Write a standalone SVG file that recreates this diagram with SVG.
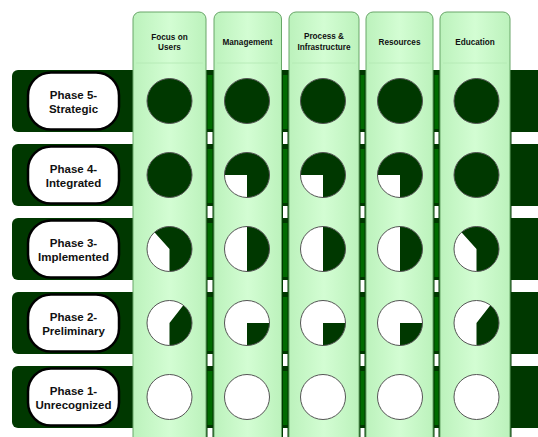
<svg xmlns="http://www.w3.org/2000/svg" xmlns:xlink="http://www.w3.org/1999/xlink" width="538" height="437" viewBox="0 0 538 437">
<style>
.bar{fill:#003800}
.pill{fill:#fff;stroke:#000;stroke-width:2.5}
.ptxt{font-family:"Liberation Sans",Arial,sans-serif;font-weight:bold;font-size:11.5px;fill:#111;text-anchor:middle}
.col{fill:url(#colg);stroke:#68a668;stroke-width:1}
.htxt{font-family:"Liberation Sans",Arial,sans-serif;font-weight:bold;font-size:8.2px;fill:#111;text-anchor:middle}
.sep{stroke:#b2e9b2;stroke-width:0.8}
.gapd{fill:#003800}
.gapw{fill:#fff}
.gapg{fill:#006b00}
.dark{fill:#003800}
.ring{fill:none;stroke:#555;stroke-width:1}
</style>
<defs>
<linearGradient id="colg" x1="0" y1="0" x2="1" y2="0">
<stop offset="0" stop-color="#bcf2bc"/>
<stop offset="0.5" stop-color="#d3fdd3"/>
<stop offset="1" stop-color="#bcf2bc"/>
</linearGradient>
<g id="full"><circle r="22.5" class="dark"/><circle r="22.5" class="ring"/></g>
<g id="empty"><circle r="22.5" fill="#fff"/><circle r="22.5" class="ring"/></g>
<g id="threeq"><circle r="22.5" fill="#fff"/><path class="dark" d="M0,0 L-22.5,0 A22.5,22.5 0 1 1 0,22.5 Z"/><circle r="22.5" class="ring"/></g>
<g id="half"><circle r="22.5" fill="#fff"/><path class="dark" d="M0,-22.5 A22.5,22.5 0 0 1 0,22.5 Z"/><circle r="22.5" class="ring"/></g>
<g id="quarter"><circle r="22.5" fill="#fff"/><path class="dark" d="M0,0 L22.5,0 A22.5,22.5 0 0 1 0,22.5 Z"/><circle r="22.5" class="ring"/></g>
<g id="p3"><circle r="22.5" fill="#fff"/><path class="dark" d="M0,0 L-15.06,-16.72 A22.5,22.5 0 1 1 0,22.5 Z"/><circle r="22.5" class="ring"/></g>
<g id="p2"><circle r="22.5" fill="#fff"/><path class="dark" d="M0,0 L13.85,-17.73 A22.5,22.5 0 0 1 0,22.5 Z"/><circle r="22.5" class="ring"/></g>
</defs>
<rect width="538" height="437" fill="#fff"/>

<g id="rows">
<g id="row-phase5"><rect class="bar" x="12" y="70" width="540" height="62" rx="6"/></g>
<g id="row-phase4"><rect class="bar" x="12" y="144" width="540" height="62" rx="6"/></g>
<g id="row-phase3"><rect class="bar" x="12" y="218" width="540" height="62" rx="6"/></g>
<g id="row-phase2"><rect class="bar" x="12" y="292" width="540" height="62" rx="6"/></g>
<g id="row-phase1"><rect class="bar" x="12" y="366" width="540" height="62" rx="6"/></g>
</g>

<g id="gaps">
<rect class="gapd" x="206" y="70" width="8" height="367"/>
<rect class="gapd" x="281.5" y="70" width="7.5" height="367"/>
<rect class="gapd" x="359" y="70" width="7" height="367"/>
<rect class="gapd" x="433" y="70" width="7" height="367"/>
<rect class="gapd" x="509.5" y="70" width="2" height="367"/>
<g id="gap-white">
<rect class="gapw" x="207.5" y="132" width="5" height="12"/><rect class="gapw" x="207.5" y="206" width="5" height="12"/><rect class="gapw" x="207.5" y="280" width="5" height="12"/><rect class="gapw" x="207.5" y="354" width="5" height="12"/><rect class="gapw" x="207.5" y="428" width="5" height="9"/>
<rect class="gapw" x="283" y="132" width="4.5" height="12"/><rect class="gapw" x="283" y="206" width="4.5" height="12"/><rect class="gapw" x="283" y="280" width="4.5" height="12"/><rect class="gapw" x="283" y="354" width="4.5" height="12"/><rect class="gapw" x="283" y="428" width="4.5" height="9"/>
<rect class="gapw" x="360.5" y="132" width="4" height="12"/><rect class="gapw" x="360.5" y="206" width="4" height="12"/><rect class="gapw" x="360.5" y="280" width="4" height="12"/><rect class="gapw" x="360.5" y="354" width="4" height="12"/><rect class="gapw" x="360.5" y="428" width="4" height="9"/>
<rect class="gapw" x="434.5" y="132" width="4" height="12"/><rect class="gapw" x="434.5" y="206" width="4" height="12"/><rect class="gapw" x="434.5" y="280" width="4" height="12"/><rect class="gapw" x="434.5" y="354" width="4" height="12"/><rect class="gapw" x="434.5" y="428" width="4" height="9"/>
</g>
<g id="gap-green">
<rect class="gapg" x="207.5" y="75" width="5" height="54"/><rect class="gapg" x="207.5" y="149" width="5" height="54"/><rect class="gapg" x="207.5" y="223" width="5" height="54"/><rect class="gapg" x="207.5" y="297" width="5" height="54"/><rect class="gapg" x="207.5" y="371" width="5" height="54"/>
<rect class="gapg" x="283" y="75" width="4.5" height="54"/><rect class="gapg" x="283" y="149" width="4.5" height="54"/><rect class="gapg" x="283" y="223" width="4.5" height="54"/><rect class="gapg" x="283" y="297" width="4.5" height="54"/><rect class="gapg" x="283" y="371" width="4.5" height="54"/>
<rect class="gapg" x="360.5" y="75" width="4" height="54"/><rect class="gapg" x="360.5" y="149" width="4" height="54"/><rect class="gapg" x="360.5" y="223" width="4" height="54"/><rect class="gapg" x="360.5" y="297" width="4" height="54"/><rect class="gapg" x="360.5" y="371" width="4" height="54"/>
<rect class="gapg" x="434.5" y="75" width="4" height="54"/><rect class="gapg" x="434.5" y="149" width="4" height="54"/><rect class="gapg" x="434.5" y="223" width="4" height="54"/><rect class="gapg" x="434.5" y="297" width="4" height="54"/><rect class="gapg" x="434.5" y="371" width="4" height="54"/>
</g>
</g>

<g id="labels">
<g id="label-phase5"><rect class="pill" x="28" y="72.5" width="91" height="57" rx="23"/><text class="ptxt" x="73.5" y="98.5">Phase 5-</text><text class="ptxt" x="73.5" y="112.5">Strategic</text></g>
<g id="label-phase4"><rect class="pill" x="28" y="146.5" width="91" height="57" rx="23"/><text class="ptxt" x="73.5" y="172.5">Phase 4-</text><text class="ptxt" x="73.5" y="186.5">Integrated</text></g>
<g id="label-phase3"><rect class="pill" x="28" y="220.5" width="91" height="57" rx="23"/><text class="ptxt" x="73.5" y="246.5">Phase 3-</text><text class="ptxt" x="73.5" y="260.5">Implemented</text></g>
<g id="label-phase2"><rect class="pill" x="28" y="294.5" width="91" height="57" rx="23"/><text class="ptxt" x="73.5" y="320.5">Phase 2-</text><text class="ptxt" x="73.5" y="334.5">Preliminary</text></g>
<g id="label-phase1"><rect class="pill" x="28" y="368.5" width="91" height="57" rx="23"/><text class="ptxt" x="73.5" y="394.5">Phase 1-</text><text class="ptxt" x="73.5" y="408.5">Unrecognized</text></g>
</g>

<g id="columns">
<g id="col-users"><rect class="col" x="133" y="12" width="73" height="440" rx="7"/><line class="sep" x1="136" y1="63" x2="203" y2="63"/><text class="htxt" x="169.5" y="39.5">Focus on</text><text class="htxt" x="169.5" y="50">Users</text></g>
<g id="col-management"><rect class="col" x="214" y="12" width="67.5" height="440" rx="7"/><line class="sep" x1="217" y1="63" x2="278" y2="63"/><text class="htxt" x="247.5" y="44.5">Management</text></g>
<g id="col-process"><rect class="col" x="289" y="12" width="70" height="440" rx="7"/><line class="sep" x1="292" y1="63" x2="356" y2="63"/><text class="htxt" x="324" y="38.5">Process &amp;</text><text class="htxt" x="324" y="49.5">Infrastructure</text></g>
<g id="col-resources"><rect class="col" x="366" y="12" width="67" height="440" rx="7"/><line class="sep" x1="369" y1="63" x2="430" y2="63"/><text class="htxt" x="399.5" y="44.5">Resources</text></g>
<g id="col-education"><rect class="col" x="440" y="12" width="70" height="440" rx="7"/><line class="sep" x1="443" y1="63" x2="507" y2="63"/><text class="htxt" x="475" y="44.5">Education</text></g>
</g>

<g id="cells">
<g id="cells-phase5">
<use xlink:href="#full" x="169.5" y="101"/><use xlink:href="#full" x="247" y="101"/><use xlink:href="#full" x="323" y="101"/><use xlink:href="#full" x="400" y="101"/><use xlink:href="#full" x="476.5" y="101"/>
</g>
<g id="cells-phase4">
<use xlink:href="#full" x="169.5" y="175"/><use xlink:href="#threeq" x="247" y="175"/><use xlink:href="#threeq" x="323" y="175"/><use xlink:href="#threeq" x="400" y="175"/><use xlink:href="#full" x="476.5" y="175"/>
</g>
<g id="cells-phase3">
<use xlink:href="#p3" x="169.5" y="249"/><use xlink:href="#half" x="247" y="249"/><use xlink:href="#half" x="323" y="249"/><use xlink:href="#half" x="400" y="249"/><use xlink:href="#p3" x="476.5" y="249"/>
</g>
<g id="cells-phase2">
<use xlink:href="#p2" x="169.5" y="323"/><use xlink:href="#quarter" x="247" y="323"/><use xlink:href="#quarter" x="323" y="323"/><use xlink:href="#quarter" x="400" y="323"/><use xlink:href="#p2" x="476.5" y="323"/>
</g>
<g id="cells-phase1">
<use xlink:href="#empty" x="169.5" y="397"/><use xlink:href="#empty" x="247" y="397"/><use xlink:href="#empty" x="323" y="397"/><use xlink:href="#empty" x="400" y="397"/><use xlink:href="#empty" x="476.5" y="397"/>
</g>
</g>
</svg>
